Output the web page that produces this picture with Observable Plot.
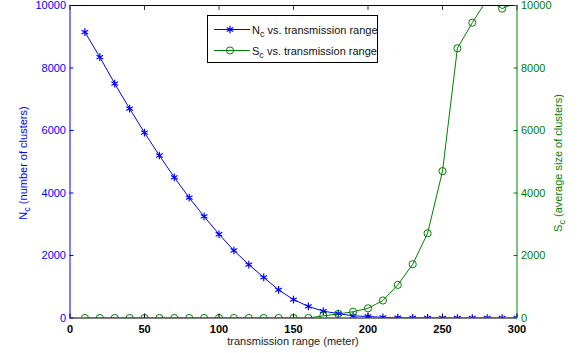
<!DOCTYPE html>
<html><head><meta charset="utf-8">
<script src="https://cdn.jsdelivr.net/npm/d3@7"></script>
<script src="https://cdn.jsdelivr.net/npm/@observablehq/plot@0.6"></script>
<style>body{margin:0;background:#fff} svg{display:block}</style>
</head><body><div id="chart"></div>
<script>
// transmission range (meter)
const range = [10,20,30,40,50,60,70,80,90,100,110,120,130,140,150,160,170,180,190,200,210,220,230,240,250,260,270,280,290,300];
// N_c : number of clusters
const nc = [9150,8350,7500,6700,5930,5200,4500,3850,3250,2680,2160,1710,1300,900,590,370,220,140,70,50,20,10,5,3,2,1,1,0,0,0];
// S_c : average size of clusters
const sc = [0,0,0,0,0,0,0,0,0,0,0,0,0,0,0,0,70,130,200,310,560,1060,1720,2710,4700,8630,9450,10200,9900,10100];
const xTicks = [0,50,100,150,200,250,300];
const yTicks = [0,2000,4000,6000,8000,10000];
const xDomain = [0,300];
const yDomain = [0,10000];
const legendLabels = ["vs. transmission range","vs. transmission range"];

const BLUE = "#0000ff", GREEN = "#008000";
const rows = range.map((r,i)=>({range:r, nc:nc[i], sc:sc[i]}));

const W = 582, H = 353;
const mL = 69.5, mR = 65.5, mT = 5, mB = 35.5;
const fmt = d3.format("d");

const svg = Plot.plot({
  width: W, height: H,
  marginLeft: mL, marginRight: mR, marginTop: mT, marginBottom: mB,
  style: {fontFamily: "'Liberation Sans', Arial, sans-serif", fontSize: "11px", background: "white", overflow: "visible"},
  x: {domain: xDomain, ticks: xTicks},
  y: {domain: yDomain, ticks: yTicks},
  marks: [
    Plot.line(rows, {x:"range", y:"nc", stroke: BLUE, strokeWidth: 1, clip: true}),
    Plot.dot(rows, {x:"range", y:"nc", symbol:"asterisk", r: 3.6, stroke: BLUE, strokeWidth: 1.2, clip: true}),
    Plot.line(rows, {x:"range", y:"sc", stroke: GREEN, strokeWidth: 1, clip: true}),
    Plot.dot(rows, {x:"range", y:"sc", symbol:"circle", r: 3.6, stroke: GREEN, fill: "none", strokeWidth: 1, clip: true}),
    Plot.ruleY([yDomain[1]], {stroke: "black"}),
    Plot.ruleY([yDomain[0]], {stroke: "black"}),
    Plot.ruleX([xDomain[0]], {stroke: BLUE}),
    Plot.ruleX([xDomain[1]], {stroke: GREEN}),
    Plot.axisX({anchor:"bottom", ticks: xTicks, tickSize: -4, tickPadding: 11, color: "black", label: null, fontWeight: "bold", tickFormat: fmt}),
    Plot.axisX({anchor:"top", ticks: xTicks, tickSize: -4, tickFormat: () => "", label: null, color: "#333"}),
    Plot.axisY({anchor:"left", ticks: yTicks, tickSize: -4, tickPadding: 8, color: BLUE, label: null, tickFormat: fmt}),
    Plot.axisY({anchor:"right", ticks: yTicks, tickSize: -4, tickPadding: 8, color: GREEN, label: null, tickFormat: fmt})
  ]
});
document.getElementById("chart").appendChild(svg);

const s = d3.select(svg);
const font = "'Liberation Sans', Arial, sans-serif";
// x label
s.append("text").attr("x", (mL + W - mR)/2).attr("y", 345)
  .attr("text-anchor","middle").attr("font-family", font).attr("font-size", 11).attr("fill","#222")
  .text("transmission range (meter)");
function subLabel(x, y, main, sub, rest, color){
  const t = s.append("text").attr("transform", `translate(${x},${y}) rotate(-90)`)
    .attr("text-anchor","middle").attr("font-family", font).attr("font-size", 11).attr("fill", color);
  t.append("tspan").text(main);
  t.append("tspan").attr("dy", 3).attr("font-size", 9).text("c");
  t.append("tspan").attr("dy", -3).text(rest);
  return t;
}
subLabel(27, 163, "N", "c", " (number of clusters)", BLUE);
subLabel(562, 163, "S", "c", " (average size of clusters)", GREEN);

// legend
const lg = s.append("g");
lg.append("rect").attr("x", 207.5).attr("y", 15.5).attr("width", 170).attr("height", 47)
  .attr("fill","white").attr("stroke","black").attr("stroke-width",1);
const items = [
  {main:"N", color: BLUE, sym: d3.symbolAsterisk, y: 29.5},
  {main:"S", color: GREEN, sym: d3.symbolCircle, y: 50.5}
];
items.forEach((it,i)=>{
  lg.append("line").attr("x1", 214).attr("x2", 250).attr("y1", it.y).attr("y2", it.y)
    .attr("stroke", it.color).attr("stroke-width", 1);
  lg.append("path").attr("transform", `translate(230,${it.y})`)
    .attr("d", d3.symbol(it.sym, 40)()).attr("fill", "none").attr("stroke", it.color).attr("stroke-width", i===0?1.2:1);
  const t = lg.append("text").attr("x", 252).attr("y", it.y + 4).attr("text-anchor","start")
    .attr("font-family", font).attr("font-size", 11).attr("fill","#111");
  t.append("tspan").text(it.main);
  t.append("tspan").attr("dy", 3).attr("font-size", 9).text("c");
  t.append("tspan").attr("dy", -3).text(" " + legendLabels[i]);
});
</script>
</body></html>
